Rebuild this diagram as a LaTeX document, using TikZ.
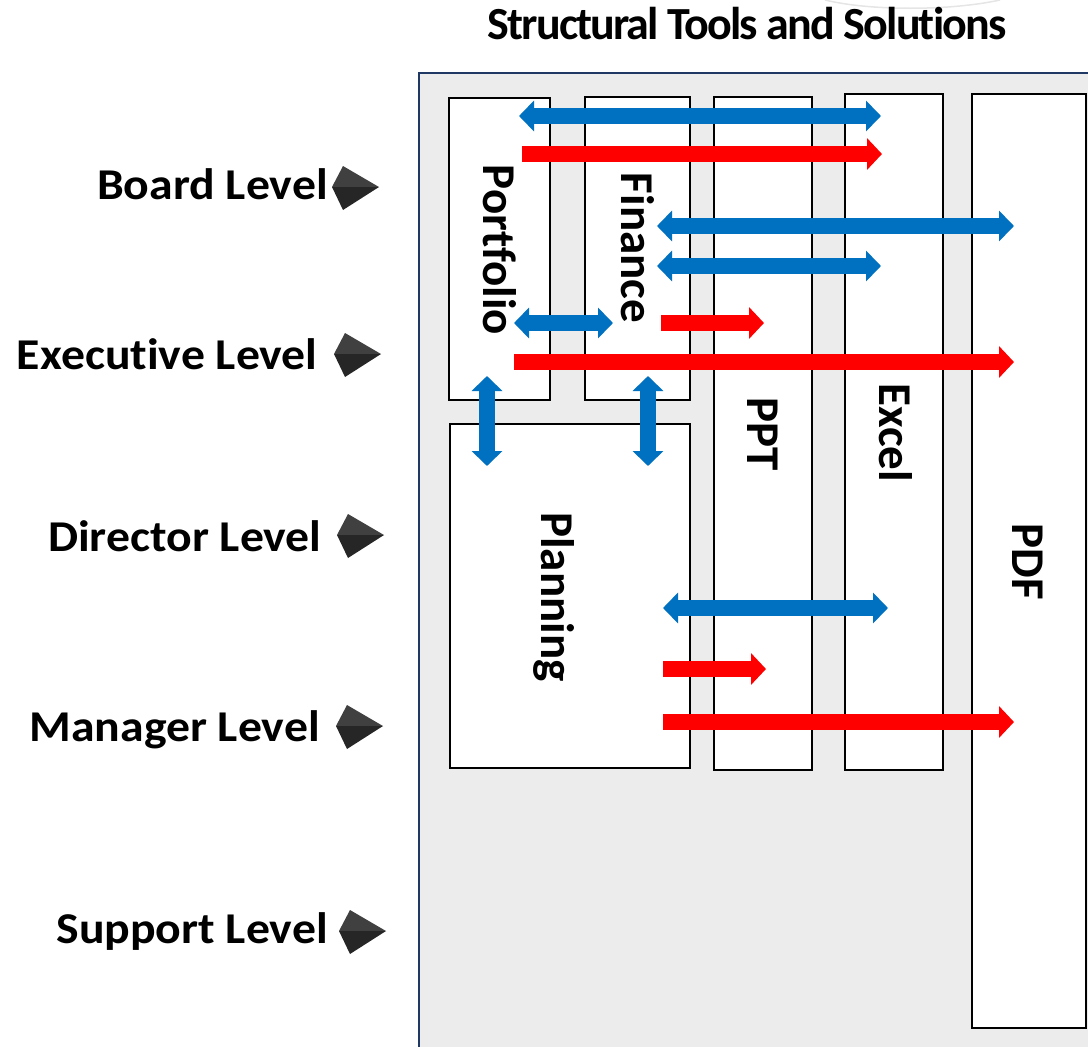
\documentclass[tikz,border=0pt]{standalone}
\usepackage{fontspec}
\setmainfont[Ligatures=NoCommon]{Carlito}
\newfontfamily\titlefont[LetterSpace=-4,Ligatures=NoCommon]{Carlito}
\usetikzlibrary{arrows.meta}
\definecolor{panelgrey}{HTML}{ECECEC}
\definecolor{navyline}{HTML}{1F3864}
\definecolor{bluearrow}{HTML}{0070C0}
\definecolor{redarrow}{HTML}{FF0000}
\tikzset{
  panel/.style={draw=navyline,line width=2pt,fill=panelgrey},
  toolbox/.style={draw=black,line width=2.3pt,fill=white,anchor=north west,inner sep=0pt,outer sep=0pt},
  toollabel/.style={font=\bfseries\fontsize{47}{47}\selectfont,rotate=-90,inner sep=0pt},
  levellabel/.style={font=\bfseries\fontsize{44}{44}\selectfont,anchor=east,inner sep=0pt,xscale=1.085},
  titlelabel/.style={font=\titlefont\bfseries\fontsize{46}{46}\selectfont,inner sep=0pt},
  bluelink/.style={draw=bluearrow,line width=15.5pt,{Triangle[length=15pt,width=30pt]}-{Triangle[length=15pt,width=30pt]}},
  redlink/.style={draw=redarrow,line width=16pt,-{Triangle[length=15pt,width=31pt]}},
  levelmark/.pic={
    \fill[black!75] (-47,0) -- (-36,-21) -- (0,0) -- cycle;
    \fill[black!85] (-47,0) -- (-36,23) -- (0,0) -- cycle;
  }
}
\begin{document}
\begin{tikzpicture}[x=1pt,y=-1pt]
\useasboundingbox (0,0) rectangle (1088,1047);
\begin{scope}
\clip (0,0) rectangle (1088,1047);
\draw[panel] (419,73) rectangle (1100,1060);
\draw[black!10,line width=1.5pt] (825,0) .. controls (870,11) and (950,11) .. (1000,0);
\end{scope}

\node[titlelabel] (title) at (747,24) {Structural Tools and Solutions};

\node[toolbox,minimum width=101pt,minimum height=302pt] (portfolio) at (449,98) {};
\node[toolbox,minimum width=105pt,minimum height=303pt] (finance) at (585,97) {};
\node[toolbox,minimum width=98pt,minimum height=673pt] (ppt) at (714,97) {};
\node[toolbox,minimum width=98pt,minimum height=676pt] (excel) at (845,94) {};
\node[toolbox,minimum width=114pt,minimum height=934pt] (pdf) at (972,94) {};
\node[toolbox,minimum width=240pt,minimum height=344pt] (planning) at (450,424) {};

\node[toollabel] (portfoliotext) at (499.5,250) {Portfolio};
\node[toollabel] (financetext) at (638,248) {Finance};
\node[toollabel] (ppttext) at (763,434) {PPT};
\node[toollabel] (exceltext) at (895.5,433) {Excel};
\node[toollabel] (pdftext) at (1028,562) {PDF};
\node[toollabel] (planningtext) at (554,597) {Planning};

\node[levellabel] (board) at (328,184) {Board Level};
\node[levellabel] (executive) at (318,354) {Executive Level};
\node[levellabel] (director) at (322,536) {Director Level};
\node[levellabel] (manager) at (320,730) {Manager Level};
\node[levellabel] (support) at (328,932) {Support Level};

\pic at (379,187) {levelmark};
\pic at (381,354) {levelmark};
\pic at (384,535) {levelmark};
\pic at (383,726) {levelmark};
\pic at (386,931) {levelmark};

% blue arrows
\coordinate (b1a) at (519,116); \coordinate (b1b) at (881,116);
\coordinate (b2a) at (657,226); \coordinate (b2b) at (1014,226);
\coordinate (b3a) at (657,266); \coordinate (b3b) at (881,266);
\coordinate (b4a) at (514,323); \coordinate (b4b) at (613,323);
\coordinate (b5a) at (663,608); \coordinate (b5b) at (888,608);
\coordinate (v1a) at (487,376); \coordinate (v1b) at (487,466);
\coordinate (v2a) at (648,376); \coordinate (v2b) at (648,466);
% red arrows
\coordinate (r1a) at (522,154); \coordinate (r1b) at (882,154);
\coordinate (r2a) at (661,323); \coordinate (r2b) at (764,323);
\coordinate (r3a) at (514,362); \coordinate (r3b) at (1014,362);
\coordinate (r4a) at (663,669); \coordinate (r4b) at (766,669);
\coordinate (r5a) at (663,722); \coordinate (r5b) at (1014,722);

\draw[bluelink] (b1a) -- (b1b);
\draw[redlink] (r1a) -- (r1b);
\draw[bluelink] (b2a) -- (b2b);
\draw[bluelink] (b3a) -- (b3b);
\draw[bluelink] (b4a) -- (b4b);
\draw[redlink] (r2a) -- (r2b);
\draw[redlink] (r3a) -- (r3b);
\draw[bluelink] (v1a) -- (v1b);
\draw[bluelink] (v2a) -- (v2b);
\draw[bluelink] (b5a) -- (b5b);
\draw[redlink] (r4a) -- (r4b);
\draw[redlink] (r5a) -- (r5b);
\end{tikzpicture}
\end{document}
